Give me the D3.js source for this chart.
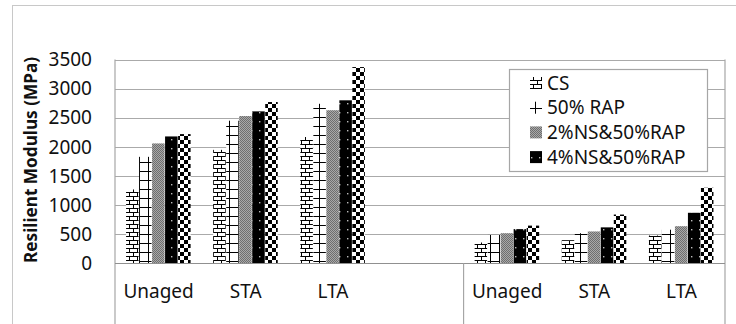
<!DOCTYPE html>
<html><head><meta charset="utf-8">
<script src="https://cdn.jsdelivr.net/npm/d3@7/dist/d3.min.js"></script>
<style>body{margin:0;background:#fff}svg{display:block}text{font-family:"Noto Sans",sans-serif}</style>
</head><body><svg id="c" width="736" height="324"></svg>
<script>
// ---- data ----
const groups = ["G1", "G2"];
const categories = ["Unaged", "STA", "LTA"];
const slots = ["G1|Unaged", "G1|STA", "G1|LTA", "G1|", "G2|Unaged", "G2|STA", "G2|LTA"];
const series = ["CS", "50% RAP", "2%NS&50%RAP", "4%NS&50%RAP", "6%NS&50%RAP"];
const legendSeries = ["CS", "50% RAP", "2%NS&50%RAP", "4%NS&50%RAP"];
const cs      = [1270, 1950, 2170, 360, 400, 480];
const rap50   = [1830, 2450, 2740, 490, 520, 580];
const ns2     = [2060, 2530, 2630, 520, 550, 640];
const ns4     = [2180, 2610, 2800, 590, 620, 870];
const ns6     = [2220, 2770, 3370, 650, 840, 1300];
const yTicks = [0, 500, 1000, 1500, 2000, 2500, 3000, 3500];
const yTitle = "Resilient Modulus (MPa)";

const dataSlots = ["G1|Unaged", "G1|STA", "G1|LTA", "G2|Unaged", "G2|STA", "G2|LTA"];
const valuesBySeries = [cs, rap50, ns2, ns4, ns6];

const svg = d3.select("#c");
const defs = svg.append("defs");

// patterns
function pat(id, w, h) {
  return defs.append("pattern").attr("id", id).attr("patternUnits", "userSpaceOnUse")
    .attr("width", w).attr("height", h);
}
let p = pat("p0", 8, 8);
p.append("rect").attr("width", 8).attr("height", 8).attr("fill", "#fff");
p.append("rect").attr("x", 0).attr("y", 0).attr("width", 8).attr("height", 1).attr("fill", "#000");
p.append("rect").attr("x", 0).attr("y", 4).attr("width", 8).attr("height", 1).attr("fill", "#000");
p.append("rect").attr("x", 1).attr("y", 0).attr("width", 1).attr("height", 4).attr("fill", "#000");
p.append("rect").attr("x", 5).attr("y", 4).attr("width", 1).attr("height", 4).attr("fill", "#000");

p = pat("p1", 9, 9);
p.append("rect").attr("width", 9).attr("height", 9).attr("fill", "#fff");
p.append("rect").attr("x", 0).attr("y", 0).attr("width", 9).attr("height", 1).attr("fill", "#000");
p.append("rect").attr("x", 4).attr("y", 0).attr("width", 1).attr("height", 9).attr("fill", "#000");

p = pat("p2", 2, 2);
p.append("rect").attr("width", 2).attr("height", 2).attr("fill", "#a8a8a8");
p.append("rect").attr("x", 0).attr("y", 0).attr("width", 1).attr("height", 1).attr("fill", "#6e6e6e");
p.append("rect").attr("x", 1).attr("y", 1).attr("width", 1).attr("height", 1).attr("fill", "#6e6e6e");

p = pat("p3", 8, 9);
p.append("rect").attr("width", 8).attr("height", 9).attr("fill", "#000");
p.append("rect").attr("x", 3).attr("y", 4).attr("width", 1.4).attr("height", 1.4).attr("fill", "#bbb");

p = pat("p4", 8, 8);
p.append("rect").attr("width", 8).attr("height", 8).attr("fill", "#fff");
p.append("rect").attr("x", 0).attr("y", 0).attr("width", 4).attr("height", 4).attr("fill", "#000");
p.append("rect").attr("x", 4).attr("y", 4).attr("width", 4).attr("height", 4).attr("fill", "#000");

const fills = ["url(#p0)", "url(#p1)", "url(#p2)", "url(#p3)", "url(#p4)"];

// layout
const L = 115, R = 725, T = 59.5, B = 263.5;
const x0 = d3.scaleBand().domain(slots).range([L, R]).paddingInner(0).paddingOuter(0);
const x1 = d3.scaleBand().domain(series).range([0, x0.bandwidth()]).paddingInner(0).paddingOuter(0.85);
const y = d3.scaleLinear().domain([0, 3500]).range([B, T]);

// outer frame
svg.append("line").attr("x1", 12).attr("x2", 736).attr("y1", 5.5).attr("y2", 5.5).attr("stroke", "#c8c8c8");
svg.append("line").attr("x1", 12.5).attr("x2", 12.5).attr("y1", 5).attr("y2", 324).attr("stroke", "#c8c8c8");

// gridlines
svg.append("g").selectAll("line").data(yTicks.filter(d => d > 0)).join("line")
  .attr("x1", L).attr("x2", R)
  .attr("y1", d => Math.round(y(d)) + 0.5).attr("y2", d => Math.round(y(d)) + 0.5)
  .attr("stroke", "#aaaaaa").attr("stroke-width", 1.2);

// bars
const gBars = svg.append("g");
series.forEach((s, si) => {
  gBars.append("g").selectAll("rect").data(dataSlots.map((k, i) => ({k, v: valuesBySeries[si][i]}))).join("rect")
    .attr("x", d => x0(d.k) + x1(s))
    .attr("width", x1.bandwidth() - 0.5)
    .attr("y", d => y(d.v))
    .attr("height", d => B - y(d.v))
    .attr("fill", fills[si]);
});

// plot borders / axes
const ax = svg.append("g").attr("stroke", "#a6a6a6").attr("stroke-width", 1.2);
ax.append("line").attr("x1", L).attr("x2", L).attr("y1", T).attr("y2", 324);
ax.append("line").attr("x1", R).attr("x2", R).attr("y1", T).attr("y2", 324);
ax.append("line").attr("x1", L).attr("x2", R).attr("y1", B).attr("y2", B).attr("stroke", "#909090");
ax.append("line").attr("x1", x0("G2|Unaged")).attr("x2", x0("G2|Unaged")).attr("y1", B).attr("y2", 324);

// y axis labels via d3 axis
const yAxis = svg.append("g").attr("transform", `translate(${L},0)`)
  .call(d3.axisLeft(y).tickValues(yTicks).tickSize(0).tickPadding(23).tickFormat(d3.format("d")));
yAxis.select(".domain").remove();
yAxis.selectAll("text").attr("font-size", 19).attr("fill", "#111").attr("font-family", "Noto Sans");

// category labels
const xAxis = svg.append("g").attr("transform", `translate(0,${B})`)
  .call(d3.axisBottom(x0).tickSize(0).tickPadding(21).tickFormat(d => d.split("|")[1]));
xAxis.select(".domain").remove();
xAxis.selectAll("text").attr("font-size", 19).attr("fill", "#111").attr("font-family", "Noto Sans");

// y title
svg.append("text").attr("transform", "translate(37,160) rotate(-90)")
  .attr("text-anchor", "middle").attr("font-weight", "bold").attr("font-size", 18.5)
  .attr("textLength", 206).attr("lengthAdjust", "spacingAndGlyphs")
  .attr("fill", "#111").text(yTitle);

// legend
const lg = svg.append("g");
lg.append("rect").attr("x", 509.5).attr("y", 69.5).attr("width", 198).attr("height", 102)
  .attr("fill", "#fff").attr("stroke", "#a6a6a6").attr("stroke-width", 1.2);
legendSeries.forEach((s, i) => {
  const cy = 83 + i * 24.7;
  lg.append("rect").attr("x", 530).attr("y", cy - 6).attr("width", 12).attr("height", 12)
    .attr("fill", fills[series.indexOf(s)]);
  lg.append("text").attr("x", 547).attr("y", cy).attr("dy", "0.35em")
    .attr("font-size", 19).attr("fill", "#111").text(s);
});
</script></body></html>
